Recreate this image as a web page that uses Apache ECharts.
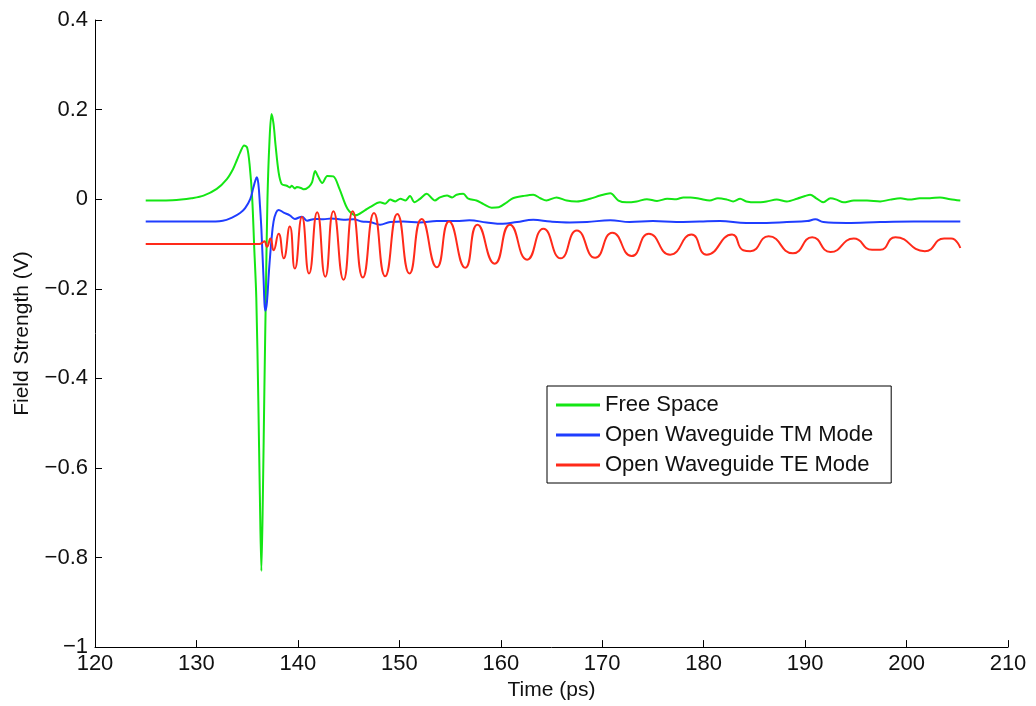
<!DOCTYPE html>
<html>
<head>
<meta charset="utf-8">
<script src="https://cdn.jsdelivr.net/npm/echarts@6/dist/echarts.min.js"></script>
<style>
  html, body { margin: 0; padding: 0; background: #fff; }
  #chart { width: 1036px; height: 706px; }
</style>
</head>
<body>
<div id="chart"></div>
<script>
"use strict";

// series names, as in the legend
const seriesNames = ["Free Space", "Open Waveguide TM Mode", "Open Waveguide TE Mode"];

// [time (ps), field strength (V)]
const freeSpace = [
  [125, -0.003], [127, -0.003], [128.5, -0.001], [129.5, 0.002], [130.7, 0.008],
  [132.0, 0.023], [133.0, 0.045], [133.6, 0.067], [134.0, 0.088], [134.3, 0.104],
  [134.7, 0.12], [135.0, 0.115], [135.25, 0.075], [135.5, 0.0], [135.7, -0.11],
  [135.9, -0.22], [136.1, -0.45], [136.25, -0.66], [136.4, -0.83], [136.55, -0.66],
  [136.7, -0.42], [136.85, -0.2], [137.0, 0.0], [137.2, 0.13], [137.4, 0.19],
  [137.6, 0.168], [137.8, 0.12], [138.1, 0.06], [138.4, 0.034], [138.9, 0.03],
  [139.2, 0.026], [139.4, 0.03], [139.7, 0.024], [139.9, 0.027], [140.3, 0.025],
  [140.6, 0.022], [141.1, 0.028], [141.4, 0.038], [141.7, 0.063], [142.0, 0.05],
  [142.4, 0.036], [142.9, 0.052], [143.5, 0.051], [144.1, 0.023], [144.9, -0.022],
  [145.7, -0.036], [146.6, -0.025], [147.1, -0.018], [148.1, -0.007], [148.6, -0.01],
  [149.1, -0.001], [149.6, -0.005], [150.1, 0.001], [150.6, -0.003], [151.05, 0.007],
  [151.5, -0.007], [152.0, 0.0], [152.7, 0.012], [153.2, 0.002], [153.5, -0.003],
  [154.0, 0.004], [154.7, 0.008], [155.2, 0.004], [155.65, 0.01], [156.3, 0.012],
  [156.8, 0.001], [157.6, -0.003], [158.3, -0.011], [159.1, -0.019], [159.8, -0.018],
  [160.6, -0.007], [161.2, 0.002], [162.2, 0.007], [163.2, 0.01], [163.9, 0.002],
  [164.5, -0.003], [165.5, 0.004], [166.5, -0.003], [167.5, -0.005], [168.8, 0.001],
  [169.8, 0.008], [170.8, 0.013], [171.6, -0.003], [172.4, -0.007], [173.4, -0.005],
  [174.4, 0.0], [175.4, -0.004], [176.4, 0.001], [177.3, 0.0], [178.0, 0.004],
  [178.7, 0.004], [179.6, 0.001], [180.6, -0.003], [181.4, 0.002], [182.3, -0.001],
  [182.9, -0.005], [183.6, 0.001], [184.2, -0.005], [185.2, -0.007], [186.2, -0.005],
  [187.2, -0.001], [188.2, -0.005], [189.2, 0.001], [190.0, 0.007], [190.5, 0.01],
  [191.1, 0.002], [191.8, -0.007], [192.5, 0.002], [193.1, -0.001], [193.8, -0.007],
  [194.8, -0.003], [196.1, -0.003], [197.4, -0.005], [198.4, -0.001], [199.4, 0.002],
  [200.3, -0.001], [201.3, 0.002], [202.3, 0.002], [203.3, 0.004], [204.3, 0.0],
  [205.3, -0.003]
];

const tmMode = [
  [125, -0.05], [129, -0.05], [131, -0.05], [132.6, -0.048], [133.6, -0.04],
  [134.3, -0.031], [134.8, -0.02], [135.3, 0.0], [135.6, 0.025], [135.8, 0.041],
  [135.95, 0.049], [136.1, 0.035], [136.25, -0.01], [136.4, -0.066], [136.6, -0.17],
  [136.8, -0.249], [136.95, -0.23], [137.15, -0.16], [137.4, -0.09], [137.6, -0.05],
  [137.85, -0.03], [138.1, -0.024], [138.6, -0.03], [139.2, -0.036], [139.7, -0.044],
  [140.4, -0.039], [140.9, -0.048], [141.7, -0.044], [142.5, -0.045], [143.3, -0.043],
  [144.5, -0.046], [145.5, -0.045], [146.3, -0.05], [147.1, -0.051], [148.1, -0.057],
  [149.1, -0.051], [150.4, -0.05], [152.0, -0.052], [153.7, -0.049], [155.6, -0.049],
  [156.9, -0.047], [158.6, -0.052], [160.2, -0.055], [161.6, -0.051], [163.2, -0.046],
  [164.9, -0.05], [166.8, -0.052], [168.5, -0.051], [170.8, -0.047], [172.7, -0.051],
  [175.0, -0.049], [177.3, -0.051], [179.6, -0.05], [181.6, -0.049], [184.2, -0.053],
  [186.2, -0.053], [188.2, -0.051], [190.2, -0.049], [191.0, -0.045], [191.8, -0.051],
  [194.1, -0.053], [197.4, -0.051], [200.7, -0.05], [205.3, -0.05]
];

const teMode = [
  [125, -0.1], [130, -0.1], [136.2, -0.1], [136.5, -0.097], [136.7, -0.094],
  [136.95, -0.106], [137.3, -0.088], [137.6, -0.114], [138.1, -0.077], [138.6, -0.132],
  [139.2, -0.061], [139.7, -0.155], [140.4, -0.04], [141.1, -0.166], [141.9, -0.029],
  [142.7, -0.173], [143.5, -0.027], [144.5, -0.18], [145.4, -0.027], [146.4, -0.175],
  [147.5, -0.031], [148.6, -0.172], [149.8, -0.033], [151.0, -0.166], [152.2, -0.044],
  [153.7, -0.152], [154.9, -0.05], [156.5, -0.153], [157.7, -0.057], [159.4, -0.144],
  [160.9, -0.057], [162.6, -0.135], [164.2, -0.066], [165.9, -0.132], [167.5, -0.07],
  [169.3, -0.131], [171.0, -0.075], [172.9, -0.127], [174.6, -0.077], [176.7, -0.124],
  [178.8, -0.079], [180.3, -0.124], [182.8, -0.079], [183.9, -0.114], [184.6, -0.116],
  [186.4, -0.083], [188.8, -0.121], [190.7, -0.085], [192.5, -0.118], [194.8, -0.088],
  [196.6, -0.113], [197.4, -0.113], [198.9, -0.085], [201.8, -0.116], [203.7, -0.088],
  [204.4, -0.088], [205.3, -0.109]
];

const lineColors = ["#14e614", "#1f3dff", "#ff2a1a"];

const chart = echarts.init(document.getElementById("chart"));

const font = "'Liberation Sans', Arial, Helvetica, sans-serif";

// MATLAB style minus sign on negative tick labels
const fmtTick = (v) => {
  const r = Math.round(v * 10) / 10;
  return (r < 0 ? "\u2212" : "") + Math.abs(r);
};

const makeLine = (name, data, color, smooth) => ({
  name,
  type: "line",
  data,
  showSymbol: false,
  symbol: "none",
  smooth,
  lineStyle: { color, width: 2 },
  itemStyle: { color },
});

chart.setOption({
  animation: false,
  backgroundColor: "#fff",
  textStyle: { fontFamily: font },

  grid: { left: 95, right: 28, top: 20, bottom: 55 },

  xAxis: {
    type: "value",
    min: 120,
    max: 210,
    interval: 10,
    name: "Time (ps)",
    nameLocation: "middle",
    nameGap: 26,
    nameTextStyle: { fontSize: 21, color: "#111", fontFamily: font },
    axisLine: { show: true, onZero: false, lineStyle: { color: "#000", width: 1 } },
    axisTick: { show: true, inside: true, length: 7, lineStyle: { color: "#000" } },
    axisLabel: { fontSize: 22, color: "#111", margin: 6, fontFamily: font },
    splitLine: { show: false },
  },

  yAxis: {
    type: "value",
    min: -1,
    max: 0.4,
    interval: 0.2,
    name: "Field Strength (V)",
    nameLocation: "middle",
    nameGap: 62,
    nameTextStyle: { fontSize: 21, color: "#111", fontFamily: font },
    axisLine: { show: true, lineStyle: { color: "#000", width: 1 } },
    axisTick: { show: true, inside: true, length: 7, lineStyle: { color: "#000" } },
    axisLabel: { fontSize: 22, color: "#111", margin: 7, formatter: fmtTick, fontFamily: font },
    splitLine: { show: false },
  },

  legend: {
    data: seriesNames,
    orient: "vertical",
    left: 547,
    top: 386,
    padding: [8, 18, 7, 9],
    itemGap: 8,
    itemWidth: 44,
    itemHeight: 3,
    icon: "rect",
    selectedMode: false,
    backgroundColor: "#fff",
    borderColor: "#000",
    borderWidth: 1,
    borderRadius: 0,
    textStyle: { fontSize: 22, color: "#111", lineHeight: 22, fontFamily: font },
  },

  series: [
    makeLine(seriesNames[0], freeSpace, lineColors[0], 0.3),
    makeLine(seriesNames[1], tmMode, lineColors[1], 0.4),
    makeLine(seriesNames[2], teMode, lineColors[2], 0.55),
  ],
});
</script>
</body>
</html>
